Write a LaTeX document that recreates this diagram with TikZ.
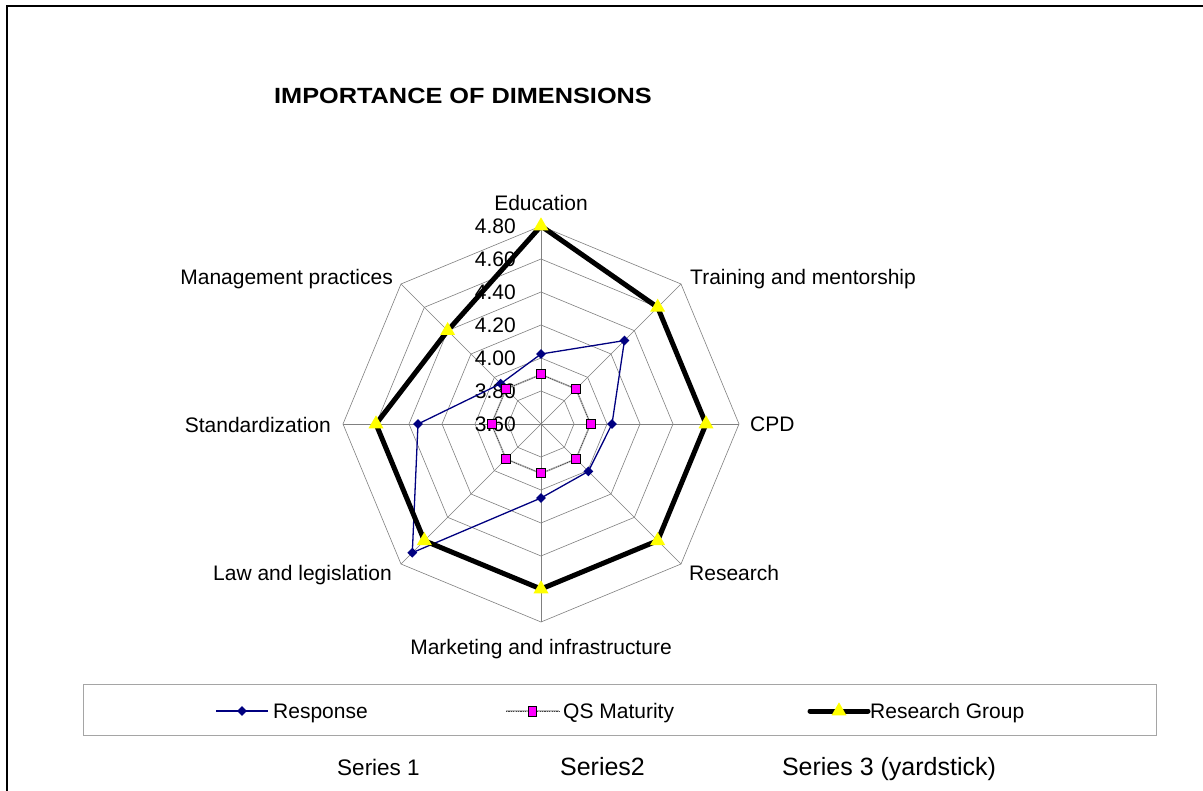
\documentclass[tikz,border=0pt]{standalone}
\usepackage{fontspec}
\setmainfont{Liberation Sans}
\usetikzlibrary{shapes.geometric}
\definecolor{navyblue}{RGB}{0,0,128}
\definecolor{gridgray}{RGB}{128,128,128}
\definecolor{legendgray}{RGB}{165,165,165}
\definecolor{qsmag}{RGB}{255,0,255}
\definecolor{rgyellow}{RGB}{255,255,0}
\begin{document}
\begin{tikzpicture}[x=1pt,y=-1pt,
  lab/.style={inner sep=0pt, font=\fontsize{21}{25}\selectfont, text height=15pt, text depth=0pt},
  serlab/.style={inner sep=0pt, text height=17pt, text depth=0pt},
  gridline/.style={draw=gridgray, line width=0.6pt},
  respline/.style={draw=navyblue, line width=1.3pt},
  qsline/.style={draw=gray!55, line width=1.6pt},
  qsdash/.style={draw=black!75, line width=0.7pt, dash pattern=on 1.2pt off 1.2pt},
  rgline/.style={draw=black, line width=5pt, line join=miter},
  diam/.style={diamond, fill=navyblue, inner sep=0pt, minimum width=10pt, minimum height=10pt},
  sqm/.style={rectangle, fill=qsmag, draw=black, line width=1pt, inner sep=0pt, minimum size=9pt},
  trim/.style={isosceles triangle, isosceles triangle apex angle=60, shape border rotate=90, fill=rgyellow, inner sep=0pt, minimum height=13pt, minimum width=15pt, anchor=center}
]
\useasboundingbox (0,0) rectangle (1203,791);
\fill[white] (0,0) rectangle (1203,791);
% frame
\coordinate (fbl) at (7,791);
\coordinate (ftl) at (7,6);
\coordinate (ftr) at (1203,6);
\draw[line width=2pt] (fbl) -- (ftl) -- (ftr);
% title
\node[inner sep=0pt, anchor=west, font=\fontsize{22}{26}\selectfont\bfseries, text height=16pt, text depth=0pt] (title) at (274,96) {\scalebox{1.15}[1]{IMPORTANCE OF DIMENSIONS}};

\begin{scope}[shift={(541,424)}]
  % grid
  \foreach \r in {33,66,99,132,165,198}{
    \draw[gridline] (-90:\r) -- (-45:\r) -- (0:\r) -- (45:\r) -- (90:\r) -- (135:\r) -- (180:\r) -- (225:\r) -- cycle;
  }
  \coordinate (ctr) at (0,0);
  \foreach \a/\n in {-90/1,-45/2,0/3,45/4,90/5,135/6,180/7,225/8}{
    \coordinate (ax\n) at (\a:198);
    \draw[gridline] (ctr) -- (ax\n);
  }
  % tick labels
  \node[lab, anchor=east] (t480) at (-25,-198) {4.80};
  \node[lab, anchor=east] (t460) at (-25,-165) {4.60};
  \node[lab, anchor=east] (t440) at (-25,-132) {4.40};
  \node[lab, anchor=east] (t420) at (-25,-99) {4.20};
  \node[lab, anchor=east] (t400) at (-25,-66) {4.00};
  \node[lab, anchor=east] (t380) at (-25,-33) {3.80};
  \node[lab, anchor=east] (t360) at (-25,0) {3.60};
  % category labels
  \node[lab, anchor=center] (cEdu) at (0,-221) {Education};
  \node[lab, anchor=west] (cTrain) at (149,-147) {Training and mentorship};
  \node[lab, anchor=west] (cCPD) at (209,0) {CPD};
  \node[lab, anchor=west] (cRes) at (148,149) {Research};
  \node[lab, anchor=center] (cMkt) at (0,223) {Marketing and infrastructure};
  \node[lab, anchor=east] (cLaw) at (-149,149) {Law and legislation};
  \node[lab, anchor=east] (cStd) at (-210,1) {Standardization};
  \node[lab, anchor=east] (cMgt) at (-148,-147) {Management practices};

  % Response series
  \foreach \a/\r/\n in {-90/70/1,-45/118/2,0/71/3,45/67/4,90/74/5,135/182/6,180/123/7,225/57/8}{
    \coordinate (rp\n) at (\a:\r);
  }
  \draw[respline] (rp1) -- (rp2) -- (rp3) -- (rp4) -- (rp5) -- (rp6) -- (rp7) -- (rp8) -- cycle;
  \foreach \n in {1,...,8}{ \node[diam] (rm\n) at (rp\n) {}; }

  % QS Maturity series
  \foreach \a/\n in {-90/1,-45/2,0/3,45/4,90/5,135/6,180/7,225/8}{
    \coordinate (qp\n) at (\a:49.5);
  }
  \draw[qsline] (qp1) -- (qp2) -- (qp3) -- (qp4) -- (qp5) -- (qp6) -- (qp7) -- (qp8) -- cycle;
  \draw[qsdash] (qp1) -- (qp2) -- (qp3) -- (qp4) -- (qp5) -- (qp6) -- (qp7) -- (qp8) -- cycle;
  \foreach \n in {1,...,8}{ \node[sqm] (qm\n) at (qp\n) {}; }

  % Research Group series
  \foreach \a/\r/\n in {-90/198/1,-45/165/2,0/165/3,45/165/4,90/165/5,135/165/6,180/165/7,225/132/8}{
    \coordinate (gp\n) at (\a:\r);
  }
  \draw[rgline] (gp1) -- (gp2) -- (gp3) -- (gp4) -- (gp5) -- (gp6) -- (gp7) -- (gp8) -- cycle;
  \foreach \n in {1,...,8}{ \node[trim] (gm\n) at (gp\n) {}; }
\end{scope}

% legend
\node[draw=legendgray, line width=1pt, inner sep=0pt, minimum width=1073pt, minimum height=51pt, anchor=north west] (legend) at (83,684) {};
\coordinate (lrA) at (216,711); \coordinate (lrB) at (268,711);
\draw[respline] (lrA) -- (lrB);
\node[diam] (lrM) at (242,711) {};
\node[lab, anchor=west] (lrT) at (273,711) {Response};
\coordinate (lqA) at (506,711); \coordinate (lqB) at (559,711);
\draw[qsline] (lqA) -- (lqB);
\draw[qsdash] (lqA) -- (lqB);
\node[sqm, minimum width=8pt, minimum height=10pt] (lqM) at (532,711) {};
\node[lab, anchor=west] (lqT) at (563,711) {QS Maturity};
\coordinate (lgA) at (810,711); \coordinate (lgB) at (868,711);
\draw[rgline, line cap=round] (lgA) -- (lgB);
\node[trim] (lgM) at (839,711) {};
\node[lab, anchor=west] (lgT) at (870,711) {Research Group};

% series captions
\node[serlab, font=\fontsize{22.5}{26}\selectfont, anchor=center] (s1) at (378.5,767) {Series 1};
\node[serlab, font=\fontsize{25}{29}\selectfont, anchor=center] (s2) at (602.5,767) {Series2};
\node[serlab, font=\fontsize{25}{29}\selectfont, anchor=center] (s3) at (889,767) {Series 3 (yardstick)};
\end{tikzpicture}
\end{document}
